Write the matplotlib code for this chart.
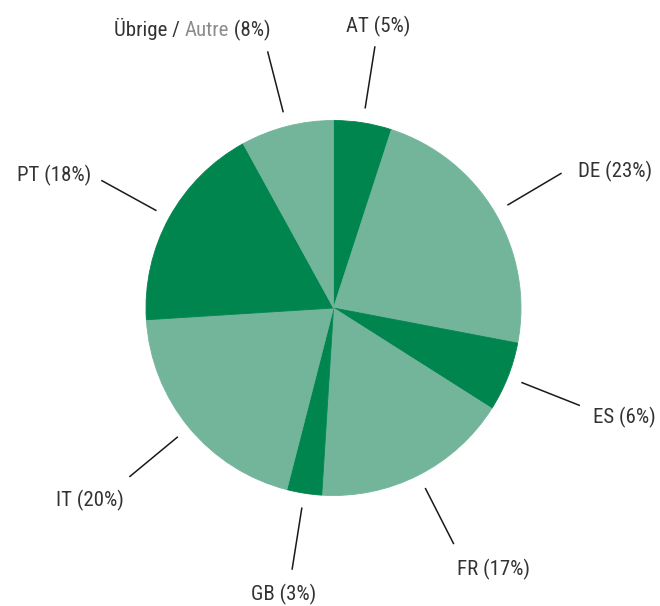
import numpy as np
import matplotlib
matplotlib.use("Agg")
import matplotlib.pyplot as plt

# data
categories = ["AT", "DE", "ES", "FR", "GB", "IT", "PT", "Übrige / Autre"]
shares = [5, 23, 6, 17, 3, 20, 18, 8]
colors = ["#00854F", "#72B59A", "#00854F", "#72B59A", "#00854F", "#72B59A", "#00854F", "#72B59A"]

# layout (pixel units, y measured downward from the top)
W, H = 660, 606
cx, cy_img, R = 333.5, 308, 187.5
r_in, r_out = 202, 265
# text offsets relative to the leader line end (dx, dy downward), alignment
label_layout = [
    (3, -21, "center", "baseline"),
    (16, -3, "left", "baseline"),
    (13, 11, "left", "baseline"),
    (3, 24, "left", "baseline"),
    (-8, 24, "center", "baseline"),
    (-5, 22, "right", "baseline"),
    (-10, -6, "right", "baseline"),
    (3, -22, "right", "baseline"),
]
BASE_SHIFT = 7  # baseline sits ~half a cap height below the text centre

FONT = ["Roboto Condensed", "Barlow Semi Condensed", "Archivo Narrow", "DejaVu Sans"]
TXT = "#333333"
GRAY = "#8C8C8C"
FS = 15

fig = plt.figure(figsize=(W / 100, H / 100), dpi=100)
ax = fig.add_axes([0, 0, 1, 1])

cy = H - cy_img
wedges, _ = ax.pie(shares, colors=colors, startangle=90, counterclock=False,
                   center=(cx, cy), radius=R, frame=True,
                   wedgeprops=dict(linewidth=0.6))
for w, c in zip(wedges, colors):
    w.set_edgecolor(c)
ax.set_xlim(0, W)
ax.set_ylim(0, H)
ax.set_aspect("equal")
ax.axis("off")

fig.canvas.draw()
renderer = fig.canvas.get_renderer()

for w, cat, val, (dx, dy, ha, va) in zip(wedges, categories, shares, label_layout):
    ang = np.deg2rad((w.theta1 + w.theta2) / 2)
    x0, y0 = cx + r_in * np.cos(ang), cy + r_in * np.sin(ang)
    x1, y1 = cx + r_out * np.cos(ang), cy + r_out * np.sin(ang)
    ax.plot([x0, x1], [y0, y1], color="#1a1a1a", lw=1.1, solid_capstyle="butt")
    tx, ty = x1 + dx, y1 - dy - BASE_SHIFT
    if " / " in cat:
        a, b = cat.split(" / ")
        parts = [(a + " / ", TXT), (b, GRAY), (f" ({val}%)", TXT)]
        xr = tx
        inv = ax.transData.inverted()
        for txt, col in reversed(parts):
            t = ax.text(xr, ty, txt, ha="right", va=va, fontsize=FS,
                        family=FONT, color=col)
            bb = t.get_window_extent(renderer=renderer)
            xr = inv.transform([[bb.x0, bb.y0]])[0][0]
    else:
        ax.text(tx, ty, f"{cat} ({val}%)", ha=ha, va=va, fontsize=FS,
                family=FONT, color=TXT)

fig.savefig("out.png", dpi=100, facecolor="white")
